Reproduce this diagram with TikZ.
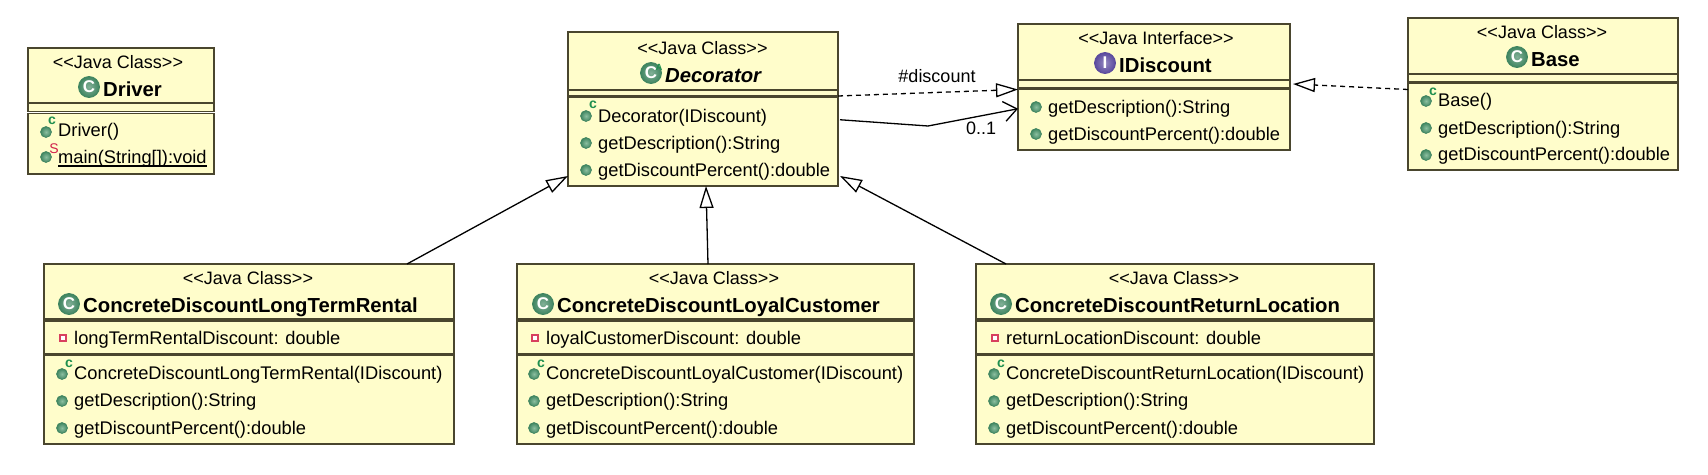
\documentclass[tikz,border=0pt]{standalone}
\usepackage{fontspec}
\setmainfont{Liberation Sans}
\usetikzlibrary{arrows.meta,calc}

\definecolor{boxfill}{HTML}{FFFDCB}
\definecolor{boxline}{HTML}{4A462E}
\definecolor{dotgreen}{HTML}{8CBFA0}
\definecolor{dotedge}{HTML}{3F8560}
\definecolor{ctorgreen}{HTML}{1F8F4F}
\definecolor{staticred}{HTML}{D0204A}
\definecolor{attrred}{HTML}{D8405F}
\definecolor{ifacepurple}{HTML}{5B4A9E}

\newcommand{\jclass}{<{}<Java Class>{}>}

\tikzset{
    umlbox/.style={draw=boxline, fill=boxfill, line width=1.5pt, anchor=north west, inner sep=0pt, outer sep=0pt},
    stereo/.style={font=\fontsize{18}{20}\selectfont, inner sep=0pt},
    titletext/.style={font=\fontsize{20.3}{22}\selectfont\bfseries, anchor=base west, inner sep=0pt, yshift=-7pt},
    member/.style={font=\fontsize{18.3}{20}\selectfont, anchor=base west, inner sep=0pt, yshift=-6.5pt},
    classicon/.style={circle, shade, inner color=#1!65!white, outer color=#1, draw=#1, line width=0.8pt, minimum size=21pt, inner sep=0pt,
        text=white, font=\fontsize{17}{17}\selectfont\bfseries},
    classicon/.default=dotedge,
    opdot/.style={shade, inner color=dotgreen, outer color=dotedge, draw=dotedge, line width=0.6pt},
    ctormark/.style={text=ctorgreen, font=\fontsize{14}{14}\selectfont\bfseries, inner sep=0pt},
    staticmark/.style={text=staticred, font=\fontsize{14}{14}\selectfont, inner sep=0pt},
    inherit/.style={-{Triangle[open, length=22pt, width=14pt]}, line width=1.3pt},
    realize/.style={inherit, dash pattern=on 5pt off 4pt},
    assoc/.style={-{Straight Barb[length=13pt, width=20pt]}, line width=1.3pt}
}

% name, left, top, right, bottom
\newcommand{\umlpart}[5]{\node[umlbox, minimum width={(#4-#2)*1pt}, minimum height={(#5-#3)*1pt}] (#1) at (#2,#3) {};}

\begin{document}
\begin{tikzpicture}[x=1pt,y=-1pt]
    \useasboundingbox (0,0) rectangle (1708,474);

    % Driver
    \umlpart{driverHead}{28}{48}{214}{103}
    \umlpart{driverMid}{28}{103}{214}{111.5}
    \umlpart{driverOps}{28}{113.5}{214}{174}
    \node[stereo] (driverStereo) at (118,62) {\jclass};
    \node[classicon] (driverIcon) at (89,87) {C};
    \node[titletext] (driverTitle) at (103,89) {Driver};
    \draw[opdot] (46,132) circle (5.5);
    \node[ctormark] (driverCtor) at (52,121) {c};
    \node[member] (driverNew) at (58,130) {Driver()};
    \draw[opdot] (46,157) circle (5.5);
    \node[staticmark] (driverStatic) at (54,149) {S};
    \node[member] (driverMain) at (58,157) {main(String[]):void};
    \draw[line width=1.2pt] ([yshift=-2.5pt]driverMain.base west) -- ([yshift=-2.5pt]driverMain.base east);

    % Decorator
    \umlpart{decoratorHead}{568}{32}{838}{90}
    \umlpart{decoratorMid}{568}{90}{838}{96}
    \umlpart{decoratorOps}{568}{97.5}{838}{186}
    \node[stereo] (decoratorStereo) at (702.5,48) {\jclass};
    \node[classicon] (decoratorIcon) at (651,73) {C};
    \node[ctormark, font=\fontsize{9}{9}\selectfont\bfseries] (decoratorAbstract) at (659,67) {A};
    \node[titletext, font=\fontsize{20.3}{22}\selectfont\bfseries\itshape] (decoratorTitle) at (665,75) {Decorator};
    \draw[opdot] (586,116) circle (5.5);
    \node[ctormark] (decoratorCtor) at (593,105) {c};
    \node[member] (decoratorNew) at (598,116) {Decorator(IDiscount)};
    \draw[opdot] (586,143) circle (5.5);
    \node[member] (decoratorDesc) at (598,143) {getDescription():String};
    \draw[opdot] (586,170) circle (5.5);
    \node[member] (decoratorPct) at (598,170) {getDiscountPercent():double};

    % Interface
    \umlpart{idiscountHead}{1018}{24}{1290}{80}
    \umlpart{idiscountMid}{1018}{80}{1290}{88}
    \umlpart{idiscountOps}{1018}{89.5}{1290}{150}
    \node[stereo] (idiscountStereo) at (1156,38) {<{}<Java Interface>{}>};
    \node[classicon=ifacepurple] (idiscountIcon) at (1105,63) {I};
    \node[titletext] (idiscountTitle) at (1119,65) {IDiscount};
    \draw[opdot] (1036,107) circle (5.5);
    \node[member] (idiscountDesc) at (1048,107) {getDescription():String};
    \draw[opdot] (1036,134) circle (5.5);
    \node[member] (idiscountPct) at (1048,134) {getDiscountPercent():double};

    % Base
    \umlpart{baseHead}{1408}{18}{1678}{74}
    \umlpart{baseMid}{1408}{74}{1678}{82}
    \umlpart{baseOps}{1408}{83.5}{1678}{170}
    \node[stereo] (baseStereo) at (1542,32) {\jclass};
    \node[classicon] (baseIcon) at (1517,57) {C};
    \node[titletext] (baseTitle) at (1531,59) {Base};
    \draw[opdot] (1426,101) circle (5.5);
    \node[ctormark] (baseCtor) at (1433,92) {c};
    \node[member] (baseNew) at (1438,100) {Base()};
    \draw[opdot] (1426,128) circle (5.5);
    \node[member] (baseDesc) at (1438,128) {getDescription():String};
    \draw[opdot] (1426,155) circle (5.5);
    \node[member] (basePct) at (1438,154) {getDiscountPercent():double};

    % Concrete discounts
    \foreach \cname/\xa/\xb/\xs/\xi/\xt/\xm/\xf/\ctitle/\cattr in {
        rental/44/454/248/69/83/63/74/ConcreteDiscountLongTermRental/longTermRentalDiscount,
        loyal/517/914/714/543/557/535/546/ConcreteDiscountLoyalCustomer/loyalCustomerDiscount,
        return/976/1374/1174/1001/1015/995/1006/ConcreteDiscountReturnLocation/returnLocationDiscount} {
        \umlpart{\cname Head}{\xa}{264}{\xb}{319}
        \umlpart{\cname Attr}{\xa}{321}{\xb}{354}
        \umlpart{\cname Ops}{\xa}{355.5}{\xb}{444}
        \node[stereo] (\cname Stereo) at (\xs,278) {\jclass};
        \node[classicon] (\cname Icon) at (\xi,304) {C};
        \node[titletext] (\cname Title) at (\xt,305) {\ctitle};
        \draw[draw=attrred, fill=white, line width=2pt] (\xm-3,335) rectangle (\xm+3,341);
        \node[member] (\cname Field) at (\xf,338) {\cattr: double};
        \draw[opdot] (\xm-1,374) circle (5.5);
        \node[ctormark] (\cname Ctor) at (\xm+6,364) {c};
        \node[member] (\cname New) at (\xf,373) {\ctitle(IDiscount)};
        \draw[opdot] (\xm-1,401) circle (5.5);
        \node[member] (\cname Desc) at (\xf,400) {getDescription():String};
        \draw[opdot] (\xm-1,428) circle (5.5);
        \node[member] (\cname Pct) at (\xf,428) {getDiscountPercent():double};
    }

    % Inheritance
    \draw[inherit] ([xshift=158pt]rentalHead.north) -- ([yshift=10pt]decoratorOps.south west);
    \draw[inherit] ([xshift=-7.5pt]loyalHead.north) -- ([xshift=3pt]decoratorOps.south);
    \draw[inherit] ([xshift=-169pt]returnHead.north) -- ([xshift=2pt,yshift=10pt]decoratorOps.south east);

    % Interface links
    \draw[realize] (decoratorMid.south east) -- (idiscountOps.north west);
    \draw[realize] ([yshift=-6pt]baseOps.north west) -- ([xshift=3pt]idiscountMid.east);
    \coordinate (assocBend) at (928,126);
    \draw[assoc] ([xshift=2pt,yshift=22pt]decoratorOps.east) -- (assocBend) -- ([yshift=11pt]idiscountOps.west);
    \node[stereo] (discountLabel) at (937,76) {\#discount};
    \node[stereo] (multLabel) at (981,128) {0..1};
\end{tikzpicture}
\end{document}
